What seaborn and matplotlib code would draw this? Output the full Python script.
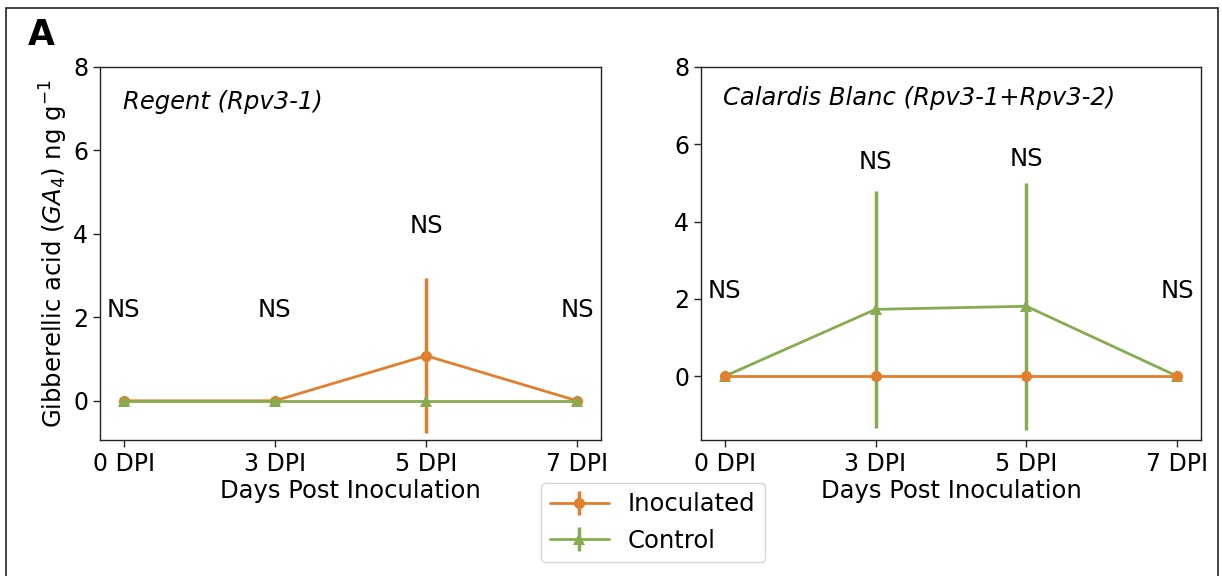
import numpy as np
import pandas as pd
import matplotlib
matplotlib.use("Agg")
import matplotlib.pyplot as plt
import seaborn as sns
from matplotlib.patches import Rectangle

# ---- data ----
days = ["0 DPI", "3 DPI", "5 DPI", "7 DPI"]
groups = ["Inoculated", "Control"]

regent_inoc = [0.0, 0.0, 1.08, 0.0]
regent_inoc_err = [0.0, 0.0, 1.86, 0.0]
regent_ctrl = [0.0, 0.0, 0.0, 0.0]
regent_ctrl_err = [0.0, 0.0, 0.0, 0.0]
regent_ns_y = [2.18, 2.18, 4.19, 2.18]

calardis_inoc = [0.0, 0.0, 0.0, 0.0]
calardis_inoc_err = [0.0, 0.0, 0.0, 0.0]
calardis_ctrl = [0.0, 1.73, 1.81, 0.0]
calardis_ctrl_err = [0.0, 3.07, 3.19, 0.0]
calardis_ns_y = [2.21, 5.54, 5.62, 2.21]

ns_labels = ["NS", "NS", "NS", "NS"]
yticks = [0, 2, 4, 6, 8]

colors = {"Inoculated": "#E17F2D", "Control": "#87AB4F"}
markers = {"Inoculated": "o", "Control": "^"}

sns.set_theme(style="ticks")
plt.rcParams["font.family"] = ["DejaVu Sans"]
plt.rcParams["mathtext.fontset"] = "dejavusans"
plt.rcParams["axes.linewidth"] = 1.0
plt.rcParams["axes.edgecolor"] = "#222222"
plt.rcParams["xtick.color"] = "#222222"
plt.rcParams["ytick.color"] = "#222222"
plt.rcParams["xtick.labelcolor"] = "black"
plt.rcParams["ytick.labelcolor"] = "black"
plt.rcParams["text.color"] = "black"
plt.rcParams["axes.labelcolor"] = "black"
plt.rcParams["xtick.major.width"] = 1.0
plt.rcParams["ytick.major.width"] = 1.0
plt.rcParams["xtick.major.size"] = 5
plt.rcParams["ytick.major.size"] = 5

FS = 17.5
TFS = 17

fig = plt.figure(figsize=(12.22, 5.76), dpi=100)
axL = fig.add_axes([100 / 1222, 1 - 440 / 576, 501 / 1222, 373 / 576])
axR = fig.add_axes([701 / 1222, 1 - 440 / 576, 500 / 1222, 373 / 576])


def make_df(inoc, inoc_err, ctrl, ctrl_err):
    rows = []
    for i, d in enumerate(days):
        rows.append({"pos": i, "day": d, "group": "Inoculated", "val": inoc[i], "err": inoc_err[i]})
        rows.append({"pos": i, "day": d, "group": "Control", "val": ctrl[i], "err": ctrl_err[i]})
    return pd.DataFrame(rows)


def draw(ax, df, order, ns_y, title, title_xy, ylim):
    handles = {}
    for g in order:
        sub = df[df["group"] == g]
        eb = ax.errorbar(sub["pos"], sub["val"], yerr=sub["err"], fmt="none",
                         ecolor=colors[g], elinewidth=2.5, capsize=0, zorder=2)
        n_before = len(ax.lines)
        sns.lineplot(data=sub, x="pos", y="val", color=colors[g], marker=markers[g],
                     markersize=8, markeredgewidth=0, linewidth=2, ax=ax, legend=False,
                     zorder=3)
        line = ax.lines[n_before]
        handles[g] = (eb, line)
    for i, y in enumerate(ns_y):
        ax.text(i, y, ns_labels[i], ha="center", va="center", fontsize=FS, color="black")
    ax.text(title_xy[0], title_xy[1], title, transform=ax.transAxes, fontsize=FS,
            style="italic", ha="left", va="center", color="black")
    ax.set_xlim(-0.157, 3.157)
    ax.set_ylim(*ylim)
    ax.set_xticks(range(len(days)))
    ax.set_xticklabels(days, fontsize=TFS)
    ax.set_yticks(yticks)
    ax.set_yticklabels([str(t) for t in yticks], fontsize=TFS)
    ax.set_xlabel("Days Post Inoculation", fontsize=FS, labelpad=2)
    ax.set_ylabel("")
    for s in ax.spines.values():
        s.set_visible(True)
    return handles


dfL = make_df(regent_inoc, regent_inoc_err, regent_ctrl, regent_ctrl_err)
dfR = make_df(calardis_inoc, calardis_inoc_err, calardis_ctrl, calardis_ctrl_err)

hL = draw(axL, dfL, ["Inoculated", "Control"], regent_ns_y, "Regent (Rpv3-1)",
          (0.045, 0.906), (-0.94, 8))
hR = draw(axR, dfR, ["Control", "Inoculated"], calardis_ns_y,
          "Calardis Blanc (Rpv3-1+Rpv3-2)", (0.044, 0.916), (-1.65, 8))

axL.set_ylabel(r"Gibberellic acid ($GA_4$) ng g$^{-1}$", fontsize=FS, labelpad=2)

fig.legend([hL["Inoculated"], hL["Control"]], groups, loc="center",
           bbox_to_anchor=(653 / 1222, 1 - 522.5 / 576), fontsize=FS,
           handlelength=2.4, frameon=True, edgecolor="#cccccc", fancybox=True)

fig.text(28 / 1222, 1 - 35 / 576, "A", fontsize=25, fontweight="bold",
         ha="left", va="center")

fig.patches.append(Rectangle((6 / 1222, -0.05), (1218 - 6) / 1222, 1.05 - 8 / 576,
                             transform=fig.transFigure, fill=False,
                             edgecolor="#222222", linewidth=1.2, clip_on=False))

fig.savefig("out.png", dpi=100)
